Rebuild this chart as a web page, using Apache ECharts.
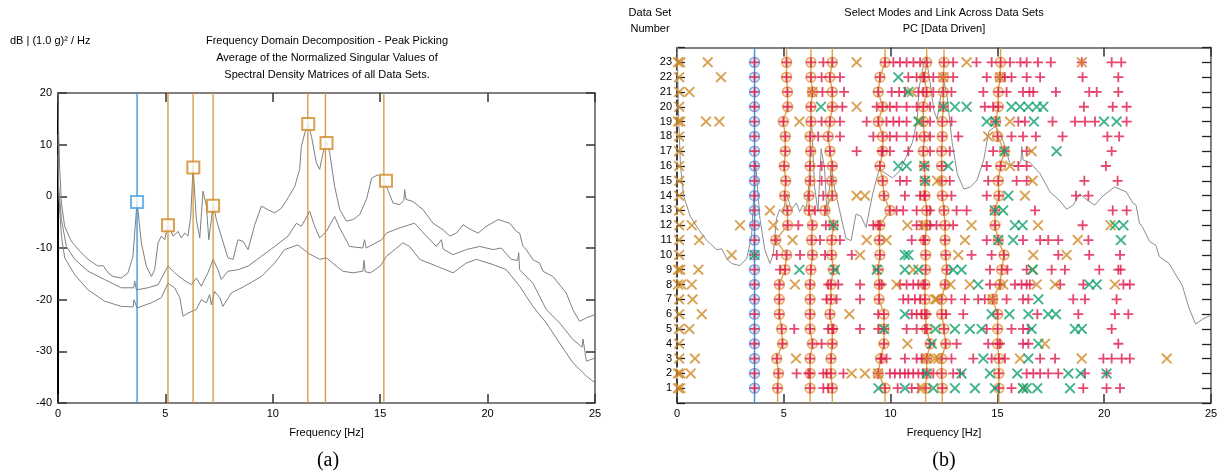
<!DOCTYPE html>
<html><head><meta charset="utf-8">
<script src="https://cdn.jsdelivr.net/npm/echarts@6/dist/echarts.min.js"></script>
<style>html,body{margin:0;padding:0;background:#fff}#c{width:1223px;height:475px}</style>
</head><body><div id="c"></div><script>
// ---------- (a) FDD peak picking: singular value curves [Hz, dB] ----------
const curveTop = [[0,20],[0.03,12],[0.08,5.2],[0.16,-1.3],[0.31,-5.8],[0.62,-8.7],[1.01,-10.6],[1.4,-12.2],[1.86,-13.5],[2.1,-13.4],[2.33,-14.8],[2.56,-15.5],[2.95,-15.8],[3.26,-14.8],[3.49,-11.6],[3.68,-1.0],[3.88,-9.0],[4.11,-13.5],[4.35,-15.5],[4.5,-14.2],[4.66,-9.0],[4.81,-7.7],[4.97,-8.4],[5.12,-5.5],[5.36,-7.7],[5.59,-6.8],[5.74,-8.05],[5.9,-7.1],[6.05,-7.7],[6.18,-3.9],[6.29,5.8],[6.44,-4.5],[6.6,-8.05],[6.75,1.0],[6.91,-1.9],[7.02,-8.4],[7.14,-4.5],[7.22,-1.3],[7.37,-4.5],[7.6,-7.7],[7.91,-11.9],[8.15,-12.2],[8.38,-8.4],[8.61,-8.7],[8.85,-10.3],[9.16,-5.5],[9.47,-1.9],[9.78,-2.6],[10.09,-3.2],[10.4,-2.3],[10.71,-0.3],[11.02,1.9],[11.25,5.2],[11.33,9.7],[11.49,12.25],[11.64,14.2],[11.8,11.6],[12.03,6.45],[12.18,5.2],[12.34,8.4],[12.5,10.6],[12.65,8.4],[12.88,1.9],[13.12,-2.6],[13.43,-4.8],[13.74,-4.5],[14.05,-3.5],[14.36,-0.6],[14.6,3.5],[14.9,4.2],[15.13,3.2],[15.29,1.9],[15.6,-1.3],[15.91,-1.6],[16.1,-0.8],[16.14,1.3],[16.2,-0.6],[16.53,-1.0],[17.0,-2.6],[17.46,-5.2],[17.93,-6.5],[18.24,-7.7],[18.55,-7.1],[18.86,-5.5],[19.25,-6.5],[19.56,-7.1],[19.94,-5.8],[20.49,-4.5],[21.03,-5.2],[21.34,-6.8],[21.49,-7.1],[21.65,-9.7],[21.8,-10.3],[22.12,-12.3],[22.42,-12.9],[22.58,-14.5],[23.04,-15.5],[23.66,-18.7],[23.97,-21.9],[24.28,-24.2],[24.6,-23.5],[25,-22.9]];
const curveMid = [[0,12],[0.03,1.9],[0.16,-4.5],[0.39,-9.7],[0.78,-12.2],[1.4,-14.5],[2.17,-16.1],[2.95,-17.7],[3.52,-17.7],[3.57,-16.4],[3.65,-18.1],[4.19,-17.7],[4.66,-17.1],[5.12,-13.5],[5.43,-14.8],[5.82,-16.1],[6.21,-17.1],[6.44,-15.8],[6.67,-17.4],[6.98,-14.8],[7.22,-12.2],[7.45,-14.2],[7.6,-16.1],[7.91,-14.5],[8.38,-14.2],[8.85,-13.5],[9.47,-11.6],[10.09,-9.7],[10.71,-7.7],[11.1,-5.2],[11.33,-5.8],[11.72,-2.9],[11.95,-5.8],[12.18,-8.05],[12.49,-6.8],[12.88,-3.9],[13.11,-6.1],[13.57,-9.7],[14.19,-10.0],[14.27,-8.4],[14.35,-10.0],[15.07,-8.4],[15.29,-7.1],[15.91,-6.1],[16.6,-5.2],[17.15,-7.7],[17.62,-9.7],[17.85,-8.4],[17.93,-10.2],[18.39,-11.3],[19.01,-10.3],[19.63,-9.7],[20.25,-10.3],[20.63,-10.0],[21.1,-12.2],[21.4,-12.4],[21.45,-10.9],[21.49,-14.2],[22.11,-16.8],[22.73,-21.9],[23.35,-24.5],[23.97,-27.7],[24.4,-29.2],[24.44,-27.6],[24.6,-31.9],[25,-31.3]];
const curveLow = [[0,8],[0.03,0.6],[0.16,-7.7],[0.31,-11.9],[0.78,-15.2],[1.4,-18.1],[2.17,-20.3],[2.95,-21.3],[3.5,-21.4],[3.54,-20.0],[3.68,-21.6],[4.35,-20.6],[4.81,-19.6],[5.12,-16.8],[5.43,-17.7],[5.67,-19.6],[5.82,-23.2],[6.05,-22.6],[6.44,-21.9],[6.67,-20.0],[6.91,-20.6],[7.06,-19.0],[7.14,-21.0],[7.29,-18.4],[7.53,-19.6],[7.68,-21.3],[8.07,-18.7],[8.69,-17.4],[9.47,-15.5],[10.09,-12.9],[10.55,-10.3],[11.17,-9.4],[11.64,-11.0],[12.18,-12.2],[12.49,-11.9],[13.26,-14.5],[13.73,-14.8],[14.19,-14.5],[14.25,-12.4],[14.3,-14.6],[14.55,-14.8],[15.0,-13.5],[15.29,-11.6],[16.06,-9.0],[16.37,-9.7],[16.84,-12.2],[17.62,-13.5],[18.39,-14.8],[19.01,-12.9],[19.48,-12.2],[20.25,-13.2],[20.87,-14.2],[21.49,-17.4],[22.11,-21.3],[22.73,-24.5],[23.35,-28.4],[23.97,-32.2],[24.6,-34.8],[25,-36.1]];
// picked peaks [Hz, dB]
const bluePeak = [[3.68,-1.1]];
const orangePeaks = [[5.12,-5.6],[6.3,5.6],[7.22,-1.8],[11.65,14.0],[12.5,10.3],[15.27,3.0]];
const bluePickLine = [3.68];
const orangePickLines = [5.12,6.29,7.22,11.63,12.45,15.17];
const leftXTicks = [0,5,10,15,20,25];
const leftYTicks = [-40,-30,-20,-10,0,10,20];

// ---------- (b) mode linking across data sets ----------
const dataSetRows = [1,2,3,4,5,6,7,8,9,10,11,12,13,14,15,16,17,18,19,20,21,22,23];
// selected (linked) mode frequency of each data set, row 1 .. row 23
const linkBlue = [3.63,3.63,3.63,3.63,3.63,3.63,3.63,3.63,3.63,3.63,3.63,3.63,3.63,3.63,3.63,3.63,3.63,3.63,3.63,3.63,3.63,3.63,3.63];
const link5 = [4.71,4.75,4.67,4.94,4.90,4.79,4.79,4.79,5.06,5.13,4.62,5.18,5.17,5.04,5.09,5.02,5.07,5.07,4.98,5.18,5.17,5.13,5.13];
const link63 = [6.23,6.23,6.23,6.34,6.23,6.23,6.23,6.23,6.27,6.34,6.30,6.34,6.18,6.18,6.23,6.23,6.26,6.23,6.27,6.27,6.34,6.27,6.27];
const link73 = [7.27,7.21,7.21,7.27,7.27,7.16,7.21,7.21,7.32,7.24,7.24,7.32,6.93,7.27,7.24,7.27,7.16,7.08,7.16,7.27,7.27,7.16,7.27];
const link97 = [9.74,9.42,9.53,9.69,9.69,9.69,9.46,9.47,9.42,9.50,9.47,9.50,9.97,9.69,9.63,9.50,9.63,9.63,9.42,9.63,9.42,9.50,9.74];
const link117 = [11.64,11.69,11.69,11.85,11.69,11.61,11.61,11.61,11.64,11.64,11.61,11.69,11.69,11.61,11.61,11.58,11.53,11.58,11.53,11.53,11.69,11.58,11.69];
const link125 = [12.42,12.39,12.39,12.58,12.50,12.39,12.39,12.55,12.63,12.58,12.55,12.55,12.50,12.42,12.39,12.39,12.39,12.42,12.42,12.47,12.47,12.47,12.50];
const link150 = [15.07,15.07,15.07,15.01,15.01,15.01,14.78,15.12,15.20,15.31,15.04,14.89,14.89,15.07,15.04,15.15,15.33,15.01,14.92,15.04,15.04,15.12,15.15];
// other picked frequencies per data set (row 1 .. row 23)
const plusByRow = [
 [6.85,7.08,10.33,10.99,11.3,15.66,19.02,20.11,20.74],
 [5.6,6.15,6.85,7.0,7.79,9.97,10.2,10.44,10.67,10.83,11.06,11.3,11.53,12.0,12.93,13.25,16.37,16.68,17.0,17.38,17.85,19.1,20.11],
 [9.58,9.81,10.67,11.22,11.45,12.85,13.87,14.73,15.35,17.0,17.7,19.96,20.35,20.82,21.2],
 [6.77,13.09,14.57,15.12,16.2,16.45,20.66],
 [5.49,7.08,7.32,8.57,9.42,10.75,11.22,11.61,14.5,15.66,16.2,16.45,20.35],
 [9.42,10.99,11.22,11.45,11.69,12.6,13.4,16.87,18.79,20.5,21.13],
 [7.0,7.47,8.57,10.59,10.83,11.14,11.38,12.85,13.48,14.1,14.41,15.43,16.2,16.45,18.55,19.1,20.58],
 [7.08,7.55,8.57,9.58,10.44,10.75,11.06,11.3,11.53,14.65,15.82,16.13,16.37,16.52,17.94,19.02,20.9,21.2],
 [4.82,14.65,15.47,16.37,17.54,18.16,19.77,20.66,20.77],
 [4.67,5.76,6.93,8.18,13.79,14.73,17.85,19.3,20.74],
 [6.7,7.63,10.99,11.53,14.5,16.2,17.0,17.38,17.85,19.26],
 [5.68,6.97,9.19,9.42,11.22,11.45,11.85,12.15,12.93,18.99],
 [6.46,10.28,10.59,11.22,11.85,13.09,13.56,16.76,20.4,21.05],
 [6.85,10.67,11.38,11.58,12.85,14.5,18.68,19.26],
 [6.77,10.44,10.75,12.77,14.57,15.9,16.37,19.07,20.63],
 [6.77,14.5,15.98,16.37,20.08],
 [8.41,9.58,9.97,10.83,11.85,12.77,14.8,16.37,20.35],
 [6.61,7.63,9.19,9.97,10.28,10.75,11.22,11.85,13.17,15.66,16.2,16.8,18.05,20.15,20.7],
 [6.77,7.63,8.88,9.81,10.13,10.4,10.75,11.85,12.85,15.98,16.29,17.58,18.63,19.1,19.57,21.05],
 [7.74,9.35,9.97,10.28,10.75,11.22,11.85,14.41,14.8,19.05,20.4,21.05],
 [6.81,7.82,10.05,10.4,10.67,11.3,11.53,12.0,12.85,14.34,15.43,16.2,16.5,16.68,17.74,19.3,19.65,20.66],
 [6.77,7.63,10.83,11.22,11.53,12.0,12.93,14.5,15.35,15.66,16.37,17.0,18.99,20.66],
 [6.85,10.13,10.44,10.75,11.07,11.38,12.93,14.02,14.73,15.59,16.08,16.37,16.9,17.5,18.95,20.35,20.8]
];
const orangeXByRow = [
 [0.05,0.15,11.45,16.2],
 [0.05,0.15,0.64,8.18,8.8,9.42],
 [0.1,0.84,5.57,11.69,12.07,12.23,16.06,18.95,22.93],
 [0.1,10.79,17.23],
 [0.1,0.58],
 [0.1,1.16,8.07],
 [0.1,0.73,12.07,12.16,14.78],
 [0.05,0.2,0.69,5.52,10.28,12.8,13.71,15.27,16.84,17.7,20.5],
 [0.05,0.15,1.0,11.06,16.65],
 [0.1,2.56,8.57,13.17,16.68,18.24],
 [0.1,1.04,5.41,8.88,9.81,13.48,18.76],
 [0.1,0.69,2.95,4.51,10.79,11.53,13.79,16.9,20.3],
 [0.1,4.35],
 [0.1,8.41,8.8,16.29],
 [0.1,12.18,16.65],
 [0.1,15.59],
 [0.1,16.6],
 [0.1,14.57],
 [0.05,0.15,1.36,1.98,5.73,11.38,15.59],
 [0.1,8.41],
 [0.1,0.58,6.34,10.99],
 [0.1,2.06,12.47,15.12],
 [0.05,0.15,1.44,8.41,13.56,18.95]
];
const greenXByRow = [
 [9.43,10.67,12.0,13.01,13.95,14.88,16.2,16.37,16.87,18.4],
 [11.69,13.32,14.65,15.93,18.32,18.9,20.11],
 [14.34,16.45],
 [11.93,16.92],
 [9.69,12.1,13.01,13.71,14.26,16.6,18.63,18.95],
 [10.67,14.73,15.56,16.45,17.38,17.74],
 [16.92],
 [14.1,19.3,19.65],
 [5.73,7.4,9.35,10.67,11.3,12.93,13.32,16.65],
 [3.63,10.67,10.83],
 [15.04,15.74,20.78],
 [7.32,15.82,16.18,20.5,20.9],
 [14.88,15.27],
 [15.51],
 [11.61],
 [10.36,10.75,11.58,12.7],
 [15.33,17.77],
 [],
 [11.3,14.5,14.91,16.71,19.99,20.58],
 [6.74,12.47,13.01,13.56,15.66,16.06,16.45,16.84,17.15],
 [10.83],
 [10.36],
 []
];
// (b) background curve = first singular value re-plotted on the data-set scale
const rightRowAt0dB = 16.7, rightRowsPerDb = 0.47;

// ---------- styles ----------
const FONT = 'Liberation Sans, Arial, sans-serif';
const GRAY = '#7f7f7f', ORANGE = '#cf8a26', BLUE = '#3b8fd4', RED = '#e0194b', GREEN = '#10a070';
const PLUS = 'path://M4.1,0H5.9V10H4.1Z M0,4.1H10V5.9H0Z';
const CROSS = 'path://M0,1.2L1.2,0L10,8.8L8.8,10Z M8.8,0L10,1.2L1.2,10L0,8.8Z';

const chart = echarts.init(document.getElementById('c'), null, {renderer:'canvas'});

function axisBase(gridIndex, pos, extra){
  return Object.assign({gridIndex, position:pos, type:'value', splitLine:{show:false},
    axisTick:{show:true, inside:true, length:9, lineStyle:{color:'#333', width:1.5}},
    axisLine:{show:true, onZero:false, lineStyle:{color:'#808080', width:2}},
    axisLabel:{show:false}}, extra);
}
const lbl = {show:true, color:'#000', fontSize:11, fontFamily:FONT};

const series = [];
// --- left chart
[curveTop, curveMid, curveLow].forEach(c => series.push({type:'line', xAxisIndex:0, yAxisIndex:0, data:c,
  showSymbol:false, silent:true, lineStyle:{color:GRAY, width:1}, z:2}));
bluePickLine.forEach(f => series.push({type:'line', xAxisIndex:0, yAxisIndex:0, data:[[f,-40],[f,20]],
  showSymbol:false, lineStyle:{color:BLUE, width:1.3}, z:3}));
orangePickLines.forEach(f => series.push({type:'line', xAxisIndex:0, yAxisIndex:0, data:[[f,-40],[f,20]],
  showSymbol:false, lineStyle:{color:ORANGE, width:1.3, opacity:0.9}, z:3}));
series.push({type:'scatter', xAxisIndex:0, yAxisIndex:0, data:bluePeak, symbol:'emptyRect', symbolSize:12,
  itemStyle:{color:'#4aa3e0', borderWidth:1.5}, z:5});
series.push({type:'scatter', xAxisIndex:0, yAxisIndex:0, data:orangePeaks, symbol:'emptyRect', symbolSize:12,
  itemStyle:{color:ORANGE, borderWidth:1.5}, z:5});

// --- right chart
series.push({type:'line', xAxisIndex:2, yAxisIndex:2, data:curveTop.map(p => [p[0], rightRowAt0dB + rightRowsPerDb*p[1]]),
  showSymbol:false, silent:true, clip:true, lineStyle:{color:'#8c8c8c', width:1}, z:2});
const links = [link5, link63, link73, link97, link117, link125, link150];
function linkData(arr){
  const d = [[arr[0], 0]];
  arr.forEach((f,i) => d.push([f, dataSetRows[i]]));
  d.push([arr[arr.length-1], 24]);
  return d;
}
series.push({type:'line', xAxisIndex:2, yAxisIndex:2, data:linkData(linkBlue), showSymbol:false,
  lineStyle:{color:BLUE, width:1.4}, z:3});
links.forEach(a => series.push({type:'line', xAxisIndex:2, yAxisIndex:2, data:linkData(a), showSymbol:false,
  lineStyle:{color:'#d69a3e', width:1.4, opacity:0.9}, z:3}));
// selected circles
series.push({type:'scatter', xAxisIndex:2, yAxisIndex:2, data:linkBlue.map((f,i)=>[f,dataSetRows[i]]),
  symbol:'circle', symbolSize:10, itemStyle:{color:'rgba(120,180,230,0.35)', borderColor:'#5aa6e0', borderWidth:1.5}, z:4});
const selPts = [];
links.forEach(a => a.forEach((f,i) => selPts.push([f, dataSetRows[i]])));
series.push({type:'scatter', xAxisIndex:2, yAxisIndex:2, data:selPts,
  symbol:'circle', symbolSize:10, itemStyle:{color:'rgba(230,170,90,0.35)', borderColor:'#dc9f4e', borderWidth:1.5}, z:4});
// plus marks (all picks incl. selected)
const plusPts = [];
plusByRow.forEach((r,i) => r.forEach(f => plusPts.push([f, dataSetRows[i]])));
linkBlue.forEach((f,i) => plusPts.push([f, dataSetRows[i]]));
selPts.forEach(p => plusPts.push(p));
series.push({type:'scatter', xAxisIndex:2, yAxisIndex:2, data:plusPts, symbol:PLUS, symbolSize:10,
  itemStyle:{color:RED}, z:5});
const oxPts = [], gxPts = [];
orangeXByRow.forEach((r,i) => r.forEach(f => oxPts.push([f, dataSetRows[i]])));
greenXByRow.forEach((r,i) => r.forEach(f => gxPts.push([f, dataSetRows[i]])));
series.push({type:'scatter', xAxisIndex:2, yAxisIndex:2, data:oxPts, symbol:CROSS, symbolSize:11,
  itemStyle:{color:ORANGE}, z:6});
series.push({type:'scatter', xAxisIndex:2, yAxisIndex:2, data:gxPts, symbol:CROSS, symbolSize:11,
  itemStyle:{color:GREEN}, z:6});

const option = {
  animation:false,
  grid:[
    {left:58, top:93, width:537, height:310, containLabel:false},
    {left:677, top:47.5, width:534, height:355.5, containLabel:false}
  ],
  xAxis:[
    axisBase(0,'bottom',{min:0,max:25,interval:5, axisLabel:Object.assign({margin:5},lbl),
      name:'Frequency [Hz]', nameLocation:'middle', nameGap:24, nameTextStyle:{color:'#000',fontSize:11,fontFamily:FONT}}),
    axisBase(0,'top',{min:0,max:25,interval:5}),
    axisBase(1,'bottom',{min:0,max:25,interval:5, axisLabel:Object.assign({margin:5},lbl),
      name:'Frequency [Hz]', nameLocation:'middle', nameGap:24, nameTextStyle:{color:'#000',fontSize:11,fontFamily:FONT}}),
    axisBase(1,'top',{min:0,max:25,interval:5})
  ],
  yAxis:[
    axisBase(0,'left',{min:-40,max:20,interval:10, axisLabel:Object.assign({margin:6},lbl),
      axisLine:{show:true,onZero:false,lineStyle:{color:'#000',width:2}}}),
    axisBase(0,'right',{min:-40,max:20,interval:10}),
    axisBase(1,'left',{min:0,max:24,interval:1, axisLabel:Object.assign({margin:5, formatter:v => (v>=1&&v<=23)?String(v):''},lbl),
      axisTick:{show:true,inside:true,length:8,lineStyle:{color:'#222',width:1.3}},
      axisLine:{show:true,onZero:false,lineStyle:{color:'#000',width:1.5,type:'dashed'}}}),
    axisBase(1,'right',{min:0,max:24,interval:1,
      axisTick:{show:true,inside:true,length:9,lineStyle:{color:'#222',width:1.3}}})
  ],
  series,
  graphic:[
    {type:'text', x:10, y:41, style:{text:'dB | (1.0 g)² / Hz', font:'11px '+FONT, fill:'#000', textAlign:'left', textVerticalAlign:'middle'}},
    {type:'text', x:327, y:41, style:{text:'Frequency Domain Decomposition - Peak Picking', font:'11px '+FONT, fill:'#000', textAlign:'center', textVerticalAlign:'middle'}},
    {type:'text', x:327, y:58, style:{text:'Average of the Normalized Singular Values of', font:'11px '+FONT, fill:'#000', textAlign:'center', textVerticalAlign:'middle'}},
    {type:'text', x:327, y:75, style:{text:'Spectral Density Matrices of all Data Sets.', font:'11px '+FONT, fill:'#000', textAlign:'center', textVerticalAlign:'middle'}},
    {type:'text', x:650, y:13, style:{text:'Data Set', font:'11px '+FONT, fill:'#000', textAlign:'center', textVerticalAlign:'middle'}},
    {type:'text', x:650, y:29, style:{text:'Number', font:'11px '+FONT, fill:'#000', textAlign:'center', textVerticalAlign:'middle'}},
    {type:'text', x:944, y:13, style:{text:'Select Modes and Link Across Data Sets', font:'11px '+FONT, fill:'#000', textAlign:'center', textVerticalAlign:'middle'}},
    {type:'text', x:944, y:29, style:{text:'PC [Data Driven]', font:'11px '+FONT, fill:'#000', textAlign:'center', textVerticalAlign:'middle'}},
    {type:'text', x:328, y:461, style:{text:'(a)', font:'20px Liberation Serif, Times New Roman, serif', fill:'#000', textAlign:'center', textVerticalAlign:'middle'}},
    {type:'text', x:944, y:461, style:{text:'(b)', font:'20px Liberation Serif, Times New Roman, serif', fill:'#000', textAlign:'center', textVerticalAlign:'middle'}}
  ]
};
chart.setOption(option);
</script></body></html>
